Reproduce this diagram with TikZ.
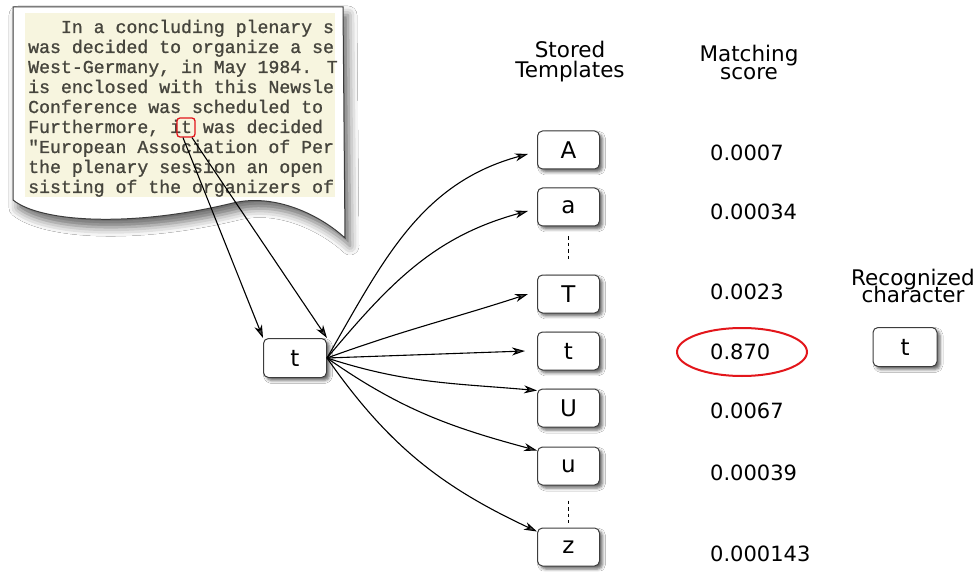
\documentclass[tikz,border=0pt]{standalone}
\usepackage{fontspec}
\setmainfont{DejaVu Sans}
\newfontfamily\twfont{Liberation Mono}[FakeBold=1.1]
\usetikzlibrary{arrows.meta,shadows.blur,shapes.geometric}
\definecolor{cream}{HTML}{F7F5DF}
\definecolor{inkgray}{HTML}{46453D}
\definecolor{boxline}{HTML}{3C3C3C}
\definecolor{okred}{HTML}{E3161B}
\begin{document}
\begin{tikzpicture}[x=1pt,y=1pt,
  charbox/.style={draw=boxline, line width=1pt, fill=white, rounded corners=5pt,
    minimum width=62pt, minimum height=38pt, inner sep=0pt,
    font=\fontsize{23}{26}\selectfont,
    blur shadow={shadow xshift=3pt, shadow yshift=-3pt, shadow blur radius=3pt, shadow opacity=60}},
  lbl/.style={font=\fontsize{21.5}{24}\selectfont, inner sep=0pt, anchor=base,
    text height=14pt, text depth=3pt},
  score/.style={font=\fontsize{21}{24}\selectfont, inner sep=0pt, anchor=west, text depth=0pt},
  tw/.style={font=\twfont\fontsize{18.2}{20}\selectfont, text=inkgray, inner sep=0pt, anchor=base west},
  arr/.style={line width=1.1pt, -{Stealth[length=13pt,width=8pt,inset=4pt]}},
  gapline/.style={line width=1.5pt, dash pattern=on 3.5pt off 3pt},
]
\useasboundingbox (0,0) rectangle (979,571);
\fill[white] (0,0) rectangle (979,571);

% paper
\path[draw=boxline, line width=1pt, fill=white,
  blur shadow={shadow xshift=5pt, shadow yshift=-8pt, shadow blur radius=9pt, shadow opacity=60}]
  (13,564) -- (343,564) -- (345,333)
  .. controls (320,356) and (275,378) .. (233,368)
  .. controls (130,343) and (40,349) .. (13,371) -- cycle;
\fill[cream] (25,374) rectangle (335,558);

\node[tw] (l1) at (60.76,538) {In a concluding plenary s};
\node[tw] (l2) at (28,518) {was decided to organize a se};
\node[tw] (l3) at (28,498) {West-Germany, in May 1984. T};
\node[tw] (l4) at (28,478) {is enclosed with this Newsle};
\node[tw] (l5) at (28,458) {Conference was scheduled to};
\node[tw] (l6) at (28,438) {Furthermore, it was decided};
\node[tw] (l7) at (28,418) {"European Association of Per};
\node[tw] (l8) at (28,398) {the plenary session an open};
\node[tw] (l9) at (28,378) {sisting of the organizers of};

\node[draw=okred, line width=1.3pt, rounded corners=3pt, minimum width=18pt,
  minimum height=19pt, inner sep=0pt] (redt) at (186,443.5) {};

% source character
\node[charbox, minimum width=63pt, minimum height=39pt] (src) at (295,213) {t};
\draw[arr] ([xshift=-3pt]redt.south) -- (src.north west);
\draw[arr] ([xshift=6pt]redt.south) -- (src.north east);

% templates
\node[charbox] (tA) at (568.5,421) {A};
\node[charbox] (ta) at (568.5,364) {a};
\node[charbox] (tT) at (568.5,277) {T};
\node[charbox] (tt) at (568.5,220) {t};
\node[charbox] (tU) at (568.5,163) {U};
\node[charbox] (tu) at (568.5,105) {u};
\node[charbox] (tz) at (568.5,24) {z};

\draw[gapline, shorten <=10pt, shorten >=13pt] (ta.south) -- (tT.north);
\draw[gapline, shorten <=15pt, shorten >=5pt] (tu.south) -- (tz.north);

\draw[arr] (src.east) to[out=60,in=195] ([xshift=-9pt,yshift=-4pt]tA.west);
\draw[arr] (src.east) to[out=50,in=195] ([xshift=-9pt,yshift=-4pt]ta.west);
\draw[arr] (src.east) to[out=20,in=198] ([xshift=-9pt]tT.west);
\draw[arr] (src.east) -- ([xshift=-12pt]tt.west);
\draw[arr] (src.east) to[out=-18,in=175] ([yshift=-2pt]tU.north west);
\draw[arr] (src.east) to[out=-35,in=165] ([yshift=-4pt]tu.north west);
\draw[arr] (src.east) to[out=-55,in=155] ([yshift=-4pt]tz.north west);

% headers
\node[lbl] (h1a) at (570,513) {Stored};
\node[lbl] (h1b) at (570,493) {Templates};
\node[lbl] (h2a) at (749,509) {Matching};
\node[lbl] (h2b) at (749,491) {score};
\node[lbl] (h3a) at (913,286) {Recognized};
\node[lbl] (h3b) at (913,269) {character};

% scores
\node[score] (sA) at (710,418) {0.0007};
\node[score] (sa) at (710,359) {0.00034};
\node[score] (sT) at (710,279) {0.0023};
\node[score] (st) at (710,219) {0.870};
\node[score] (sU) at (710,160) {0.0067};
\node[score] (su) at (710,98) {0.00039};
\node[score] (sz) at (710,17) {0.000143};
\node[draw=okred, line width=2pt, ellipse, minimum width=130pt, minimum height=48pt] (hit) at (742,219) {};

% result
\node[charbox, minimum width=64pt, minimum height=39pt] (res) at (905,224) {t};
\end{tikzpicture}
\end{document}
